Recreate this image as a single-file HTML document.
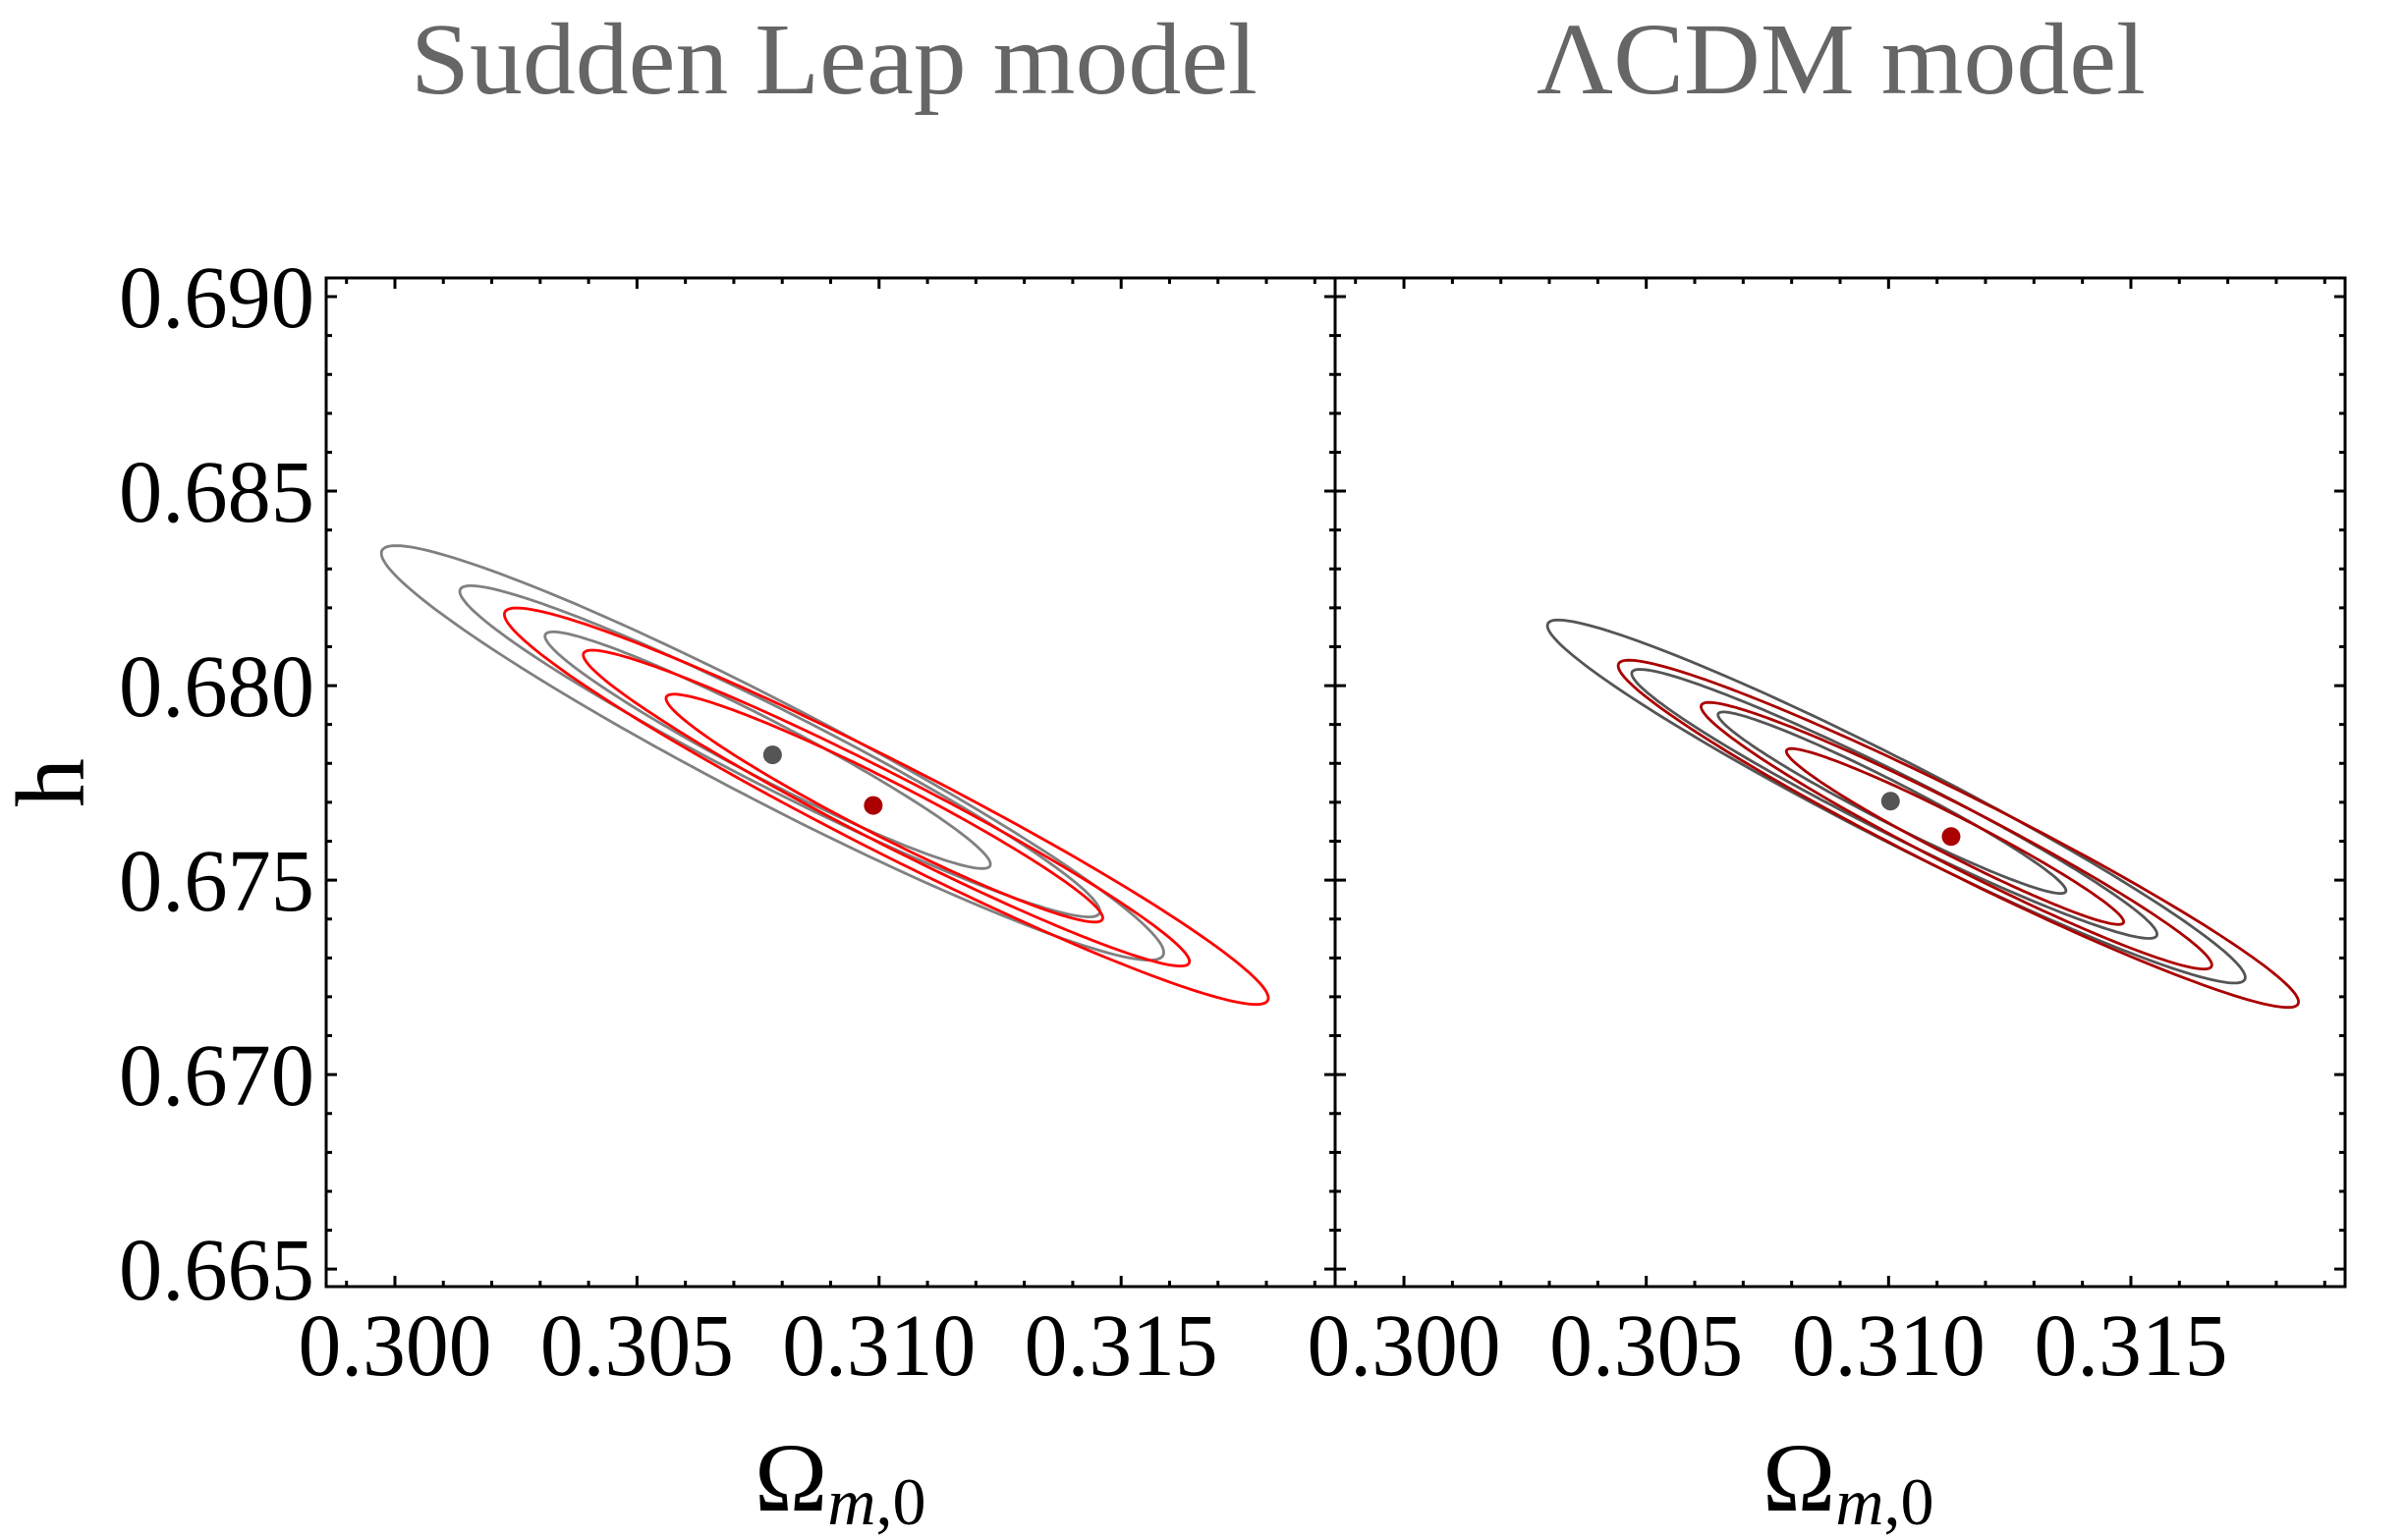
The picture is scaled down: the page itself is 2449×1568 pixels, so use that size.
<!DOCTYPE html>
<html><head><meta charset="utf-8"><style>
html,body{margin:0;padding:0;background:#fff;}
svg{display:block;font-family:"Liberation Serif",serif;}
</style></head><body>
<svg id="chart" width="2449" height="1568" viewBox="0 0 2449 1568" xmlns="http://www.w3.org/2000/svg">
<rect width="2449" height="1568" fill="#fff"/>
<text x="418" y="95" font-size="104" fill="#666" textLength="862" lengthAdjust="spacingAndGlyphs">Sudden Leap model</text>
<text x="1564" y="95" font-size="104" fill="#666" textLength="620" lengthAdjust="spacingAndGlyphs">ΛCDM model</text>
<text transform="translate(85,797) rotate(-90)" text-anchor="middle" font-size="100" fill="#000">h</text>
<g id="plots"></g>
</svg>
<script>
// axis ranges
const xRange = [0.29858, 0.31942];
const yRange = [0.66455, 0.69048];
const xTicks = [0.300, 0.305, 0.310, 0.315];
const xTickLabels = ["0.300", "0.305", "0.310", "0.315"];
const yTicks = [0.665, 0.670, 0.675, 0.680, 0.685, 0.690];
const yTickLabels = ["0.665", "0.670", "0.675", "0.680", "0.685", "0.690"];
// contour ellipses: center x, center y, half-extent dx, dy to right tip, vertical half-thickness
const leftCX = [0.30780, 0.30795, 0.30770, 0.31015, 0.31015, 0.31011];
const leftCY = [0.67827, 0.67831, 0.67834, 0.67690, 0.67685, 0.67685];
const leftDX = [0.00808, 0.00661, 0.00460, 0.00789, 0.00626, 0.00451];
const leftDY = [-0.00513, -0.00411, -0.00293, -0.00493, -0.00394, -0.00282];
const leftB  = [0.00144, 0.00111, 0.00082, 0.00129, 0.00098, 0.00079];
const leftSeries = ["gray", "gray", "gray", "red", "red", "red"];
const rightCX = [0.31016, 0.31012, 0.31007, 0.31144, 0.31140, 0.31137];
const rightCY = [0.67702, 0.67696, 0.67699, 0.67619, 0.67614, 0.67612];
const rightDX = [0.00720, 0.00542, 0.00359, 0.00702, 0.00527, 0.00348];
const rightDY = [-0.00452, -0.00335, -0.00226, -0.00432, -0.00332, -0.00219];
const rightB  = [0.00116, 0.00086, 0.00058, 0.00112, 0.00085, 0.00056];
const rightSeries = ["gray", "gray", "gray", "red", "red", "red"];
// best-fit points
const leftPointX = [0.30780, 0.30988];
const leftPointY = [0.67822, 0.67692];
const rightPointX = [0.31004, 0.31129];
const rightPointY = [0.67703, 0.67612];

const NS = "http://www.w3.org/2000/svg";
const root = document.getElementById("plots");
const top0 = 283, bot0 = 1310;
function mk(tag, attrs, parent){const e=document.createElementNS(NS,tag);for(const k in attrs)e.setAttribute(k,attrs[k]);(parent||root).appendChild(e);return e;}

function panel(name, left, right, CX, CY, DX, DY, B, S, PX, PY, colors, showY, omegaX){
  const sx = v => left + (v - xRange[0]) / (xRange[1] - xRange[0]) * (right - left);
  const sy = v => bot0 - (v - yRange[0]) / (yRange[1] - yRange[0]) * (bot0 - top0);
  const kx = (right - left) / (xRange[1] - xRange[0]);
  const ky = (bot0 - top0) / (yRange[1] - yRange[0]);
  const g = mk("g", {});
  
  
  for (let i = 0; i < CX.length; i++) {
    const cx = sx(CX[i]), cy = sy(CY[i]);
    const ax = DX[i] * kx, ay = -DY[i] * ky, by = B[i] * ky;
    let d = "";
    for (let j = 0; j <= 180; j++) {
      const t = j / 180 * 2 * Math.PI;
      const x = cx + ax * Math.cos(t), y = cy + ay * Math.cos(t) + by * Math.sin(t);
      d += (j ? "L" : "M") + x.toFixed(1) + " " + y.toFixed(1);
    }
    const p = mk("path", {d: d + "Z", fill: "none", stroke: colors[S[i]], "stroke-width": 2.8}, g);
    
    
  }
  for (let i = 0; i < PX.length; i++) {
    const c = mk("circle", {cx: sx(PX[i]), cy: sy(PY[i]), r: 9.5, fill: i === 0 ? colors.ptGray : colors.ptRed}, g);
    
    
  }
  const fr = mk("rect", {x: left, y: top0, width: right - left, height: bot0 - top0, fill: "none", stroke: "#000", "stroke-width": 3}, g);
  
  
  let td = "";
  for (let k = Math.ceil(xRange[0] * 1000 - 1e-6); k <= xRange[1] * 1000; k++) {
    const x = sx(k / 1000), L = (k % 5 === 0) ? 11 : 6;
    td += `M${x} ${bot0}V${bot0 - L}M${x} ${top0}V${top0 + L}`;
  }
  for (let k = Math.ceil(yRange[0] * 1000 - 1e-6); k <= yRange[1] * 1000; k++) {
    const y = sy(k / 1000), L = (k % 5 === 0) ? 11 : 6;
    td += `M${left} ${y}H${left + L}M${right} ${y}H${right - L}`;
  }
  const tk = mk("path", {d: td, stroke: "#000", "stroke-width": 3, fill: "none"}, g);
  
  
  xTicks.forEach((v, i) => {
    const t = mk("text", {x: sx(v), y: 1400, "text-anchor": "middle", "font-size": 90, textLength: 197, lengthAdjust: "spacingAndGlyphs"}, g);
    t.textContent = xTickLabels[i];
    
    
  });
  if (showY) yTicks.forEach((v, i) => {
    const t = mk("text", {x: 320, y: sy(v) + 31, "text-anchor": "end", "font-size": 90, textLength: 199, lengthAdjust: "spacingAndGlyphs"}, g);
    t.textContent = yTickLabels[i];
    
    
  });
  const xt = mk("text", {x: omegaX, y: 1538, "font-size": 100}, g);
  xt.innerHTML = 'Ω<tspan font-size="68" font-style="italic" dy="14">m</tspan><tspan font-size="68" dy="0">,0</tspan>';
  
  
}
panel("left-panel", 332, 1359, leftCX, leftCY, leftDX, leftDY, leftB, leftSeries, leftPointX, leftPointY,
  {gray: "#808080", red: "#ff0000", ptGray: "#555555", ptRed: "#aa0000"}, true, 768);
panel("right-panel", 1359, 2387, rightCX, rightCY, rightDX, rightDY, rightB, rightSeries, rightPointX, rightPointY,
  {gray: "#555555", red: "#aa0000", ptGray: "#555555", ptRed: "#aa0000"}, false, 1794);
</script>
</body></html>
